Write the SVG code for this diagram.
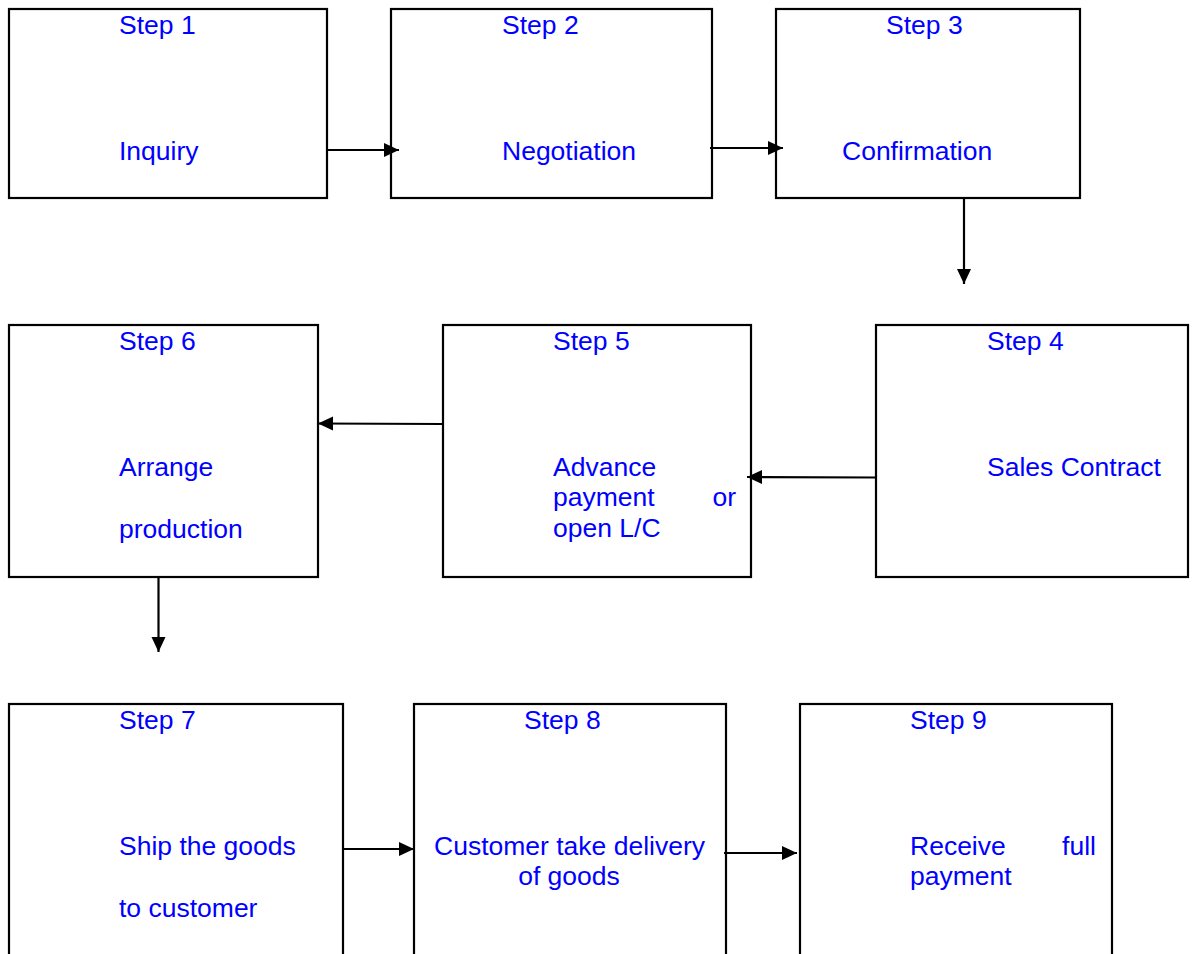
<svg xmlns="http://www.w3.org/2000/svg" width="1194" height="954" viewBox="0 0 1194 954">
<style>
.box{fill:#fff;stroke:#000;stroke-width:2.2}
.t{font-family:"Liberation Sans",Arial,sans-serif;font-size:26.5px;fill:#0000ff}
.c{stroke:#000;stroke-width:2.2;fill:none;marker-end:url(#ah)}
</style>
<defs>
<marker id="ah" markerUnits="userSpaceOnUse" markerWidth="16" markerHeight="16" viewBox="0 0 16 16" refX="15" refY="8" orient="auto">
<path d="M0,1 L15,8 L0,15 Z" fill="#000"/>
</marker>
</defs>
<rect width="1194" height="954" fill="#fff"/>
<g id="step1"><rect class="box" x="9" y="9" width="318" height="189"/><text class="t" x="119" y="34">Step 1</text><text class="t" x="119" y="160">Inquiry</text></g>
<g id="step2"><rect class="box" x="391" y="9" width="321" height="189"/><text class="t" x="502" y="34">Step 2</text><text class="t" x="502" y="160">Negotiation</text></g>
<g id="step3"><rect class="box" x="776" y="9" width="304" height="189"/><text class="t" x="886" y="34">Step 3</text><text class="t" x="842" y="160">Confirmation</text></g>
<g id="step4"><rect class="box" x="876" y="325" width="312" height="252"/><text class="t" x="987" y="350">Step 4</text><text class="t" x="987" y="476">Sales Contract</text></g>
<g id="step5"><rect class="box" x="443" y="325" width="308" height="252"/><text class="t" x="553" y="350">Step 5</text><text class="t" x="553" y="476">Advance</text><text class="t" x="553" y="506">payment</text><text class="t" x="736" y="506" text-anchor="end">or</text><text class="t" x="553" y="537">open L/C</text></g>
<g id="step6"><rect class="box" x="9" y="325" width="309" height="252"/><text class="t" x="119" y="350">Step 6</text><text class="t" x="119" y="476">Arrange</text><text class="t" x="119" y="538">production</text></g>
<g id="step7"><rect class="box" x="9" y="704" width="334" height="270"/><text class="t" x="119" y="729">Step 7</text><text class="t" x="119" y="855">Ship the goods</text><text class="t" x="119" y="917">to customer</text></g>
<g id="step8"><rect class="box" x="414" y="704" width="312" height="270"/><text class="t" x="524" y="729">Step 8</text><text class="t" x="569.5" y="855" text-anchor="middle">Customer take delivery</text><text class="t" x="569" y="885" text-anchor="middle">of goods</text></g>
<g id="step9"><rect class="box" x="800" y="704" width="312" height="270"/><text class="t" x="910" y="729">Step 9</text><text class="t" x="910" y="855">Receive</text><text class="t" x="1096" y="855" text-anchor="end">full</text><text class="t" x="910" y="885">payment</text></g>
<g id="connectors">
<line class="c" x1="327" y1="150" x2="399" y2="150"/>
<line class="c" x1="710" y1="148" x2="783" y2="148"/>
<line class="c" x1="964" y1="199" x2="964" y2="284"/>
<line class="c" x1="876" y1="477.5" x2="747" y2="477"/>
<line class="c" x1="443" y1="424" x2="318" y2="423.5"/>
<line class="c" x1="158.5" y1="578" x2="158.5" y2="652"/>
<line class="c" x1="343" y1="849" x2="414" y2="849"/>
<line class="c" x1="724" y1="853" x2="797" y2="853"/>
</g>
</svg>
